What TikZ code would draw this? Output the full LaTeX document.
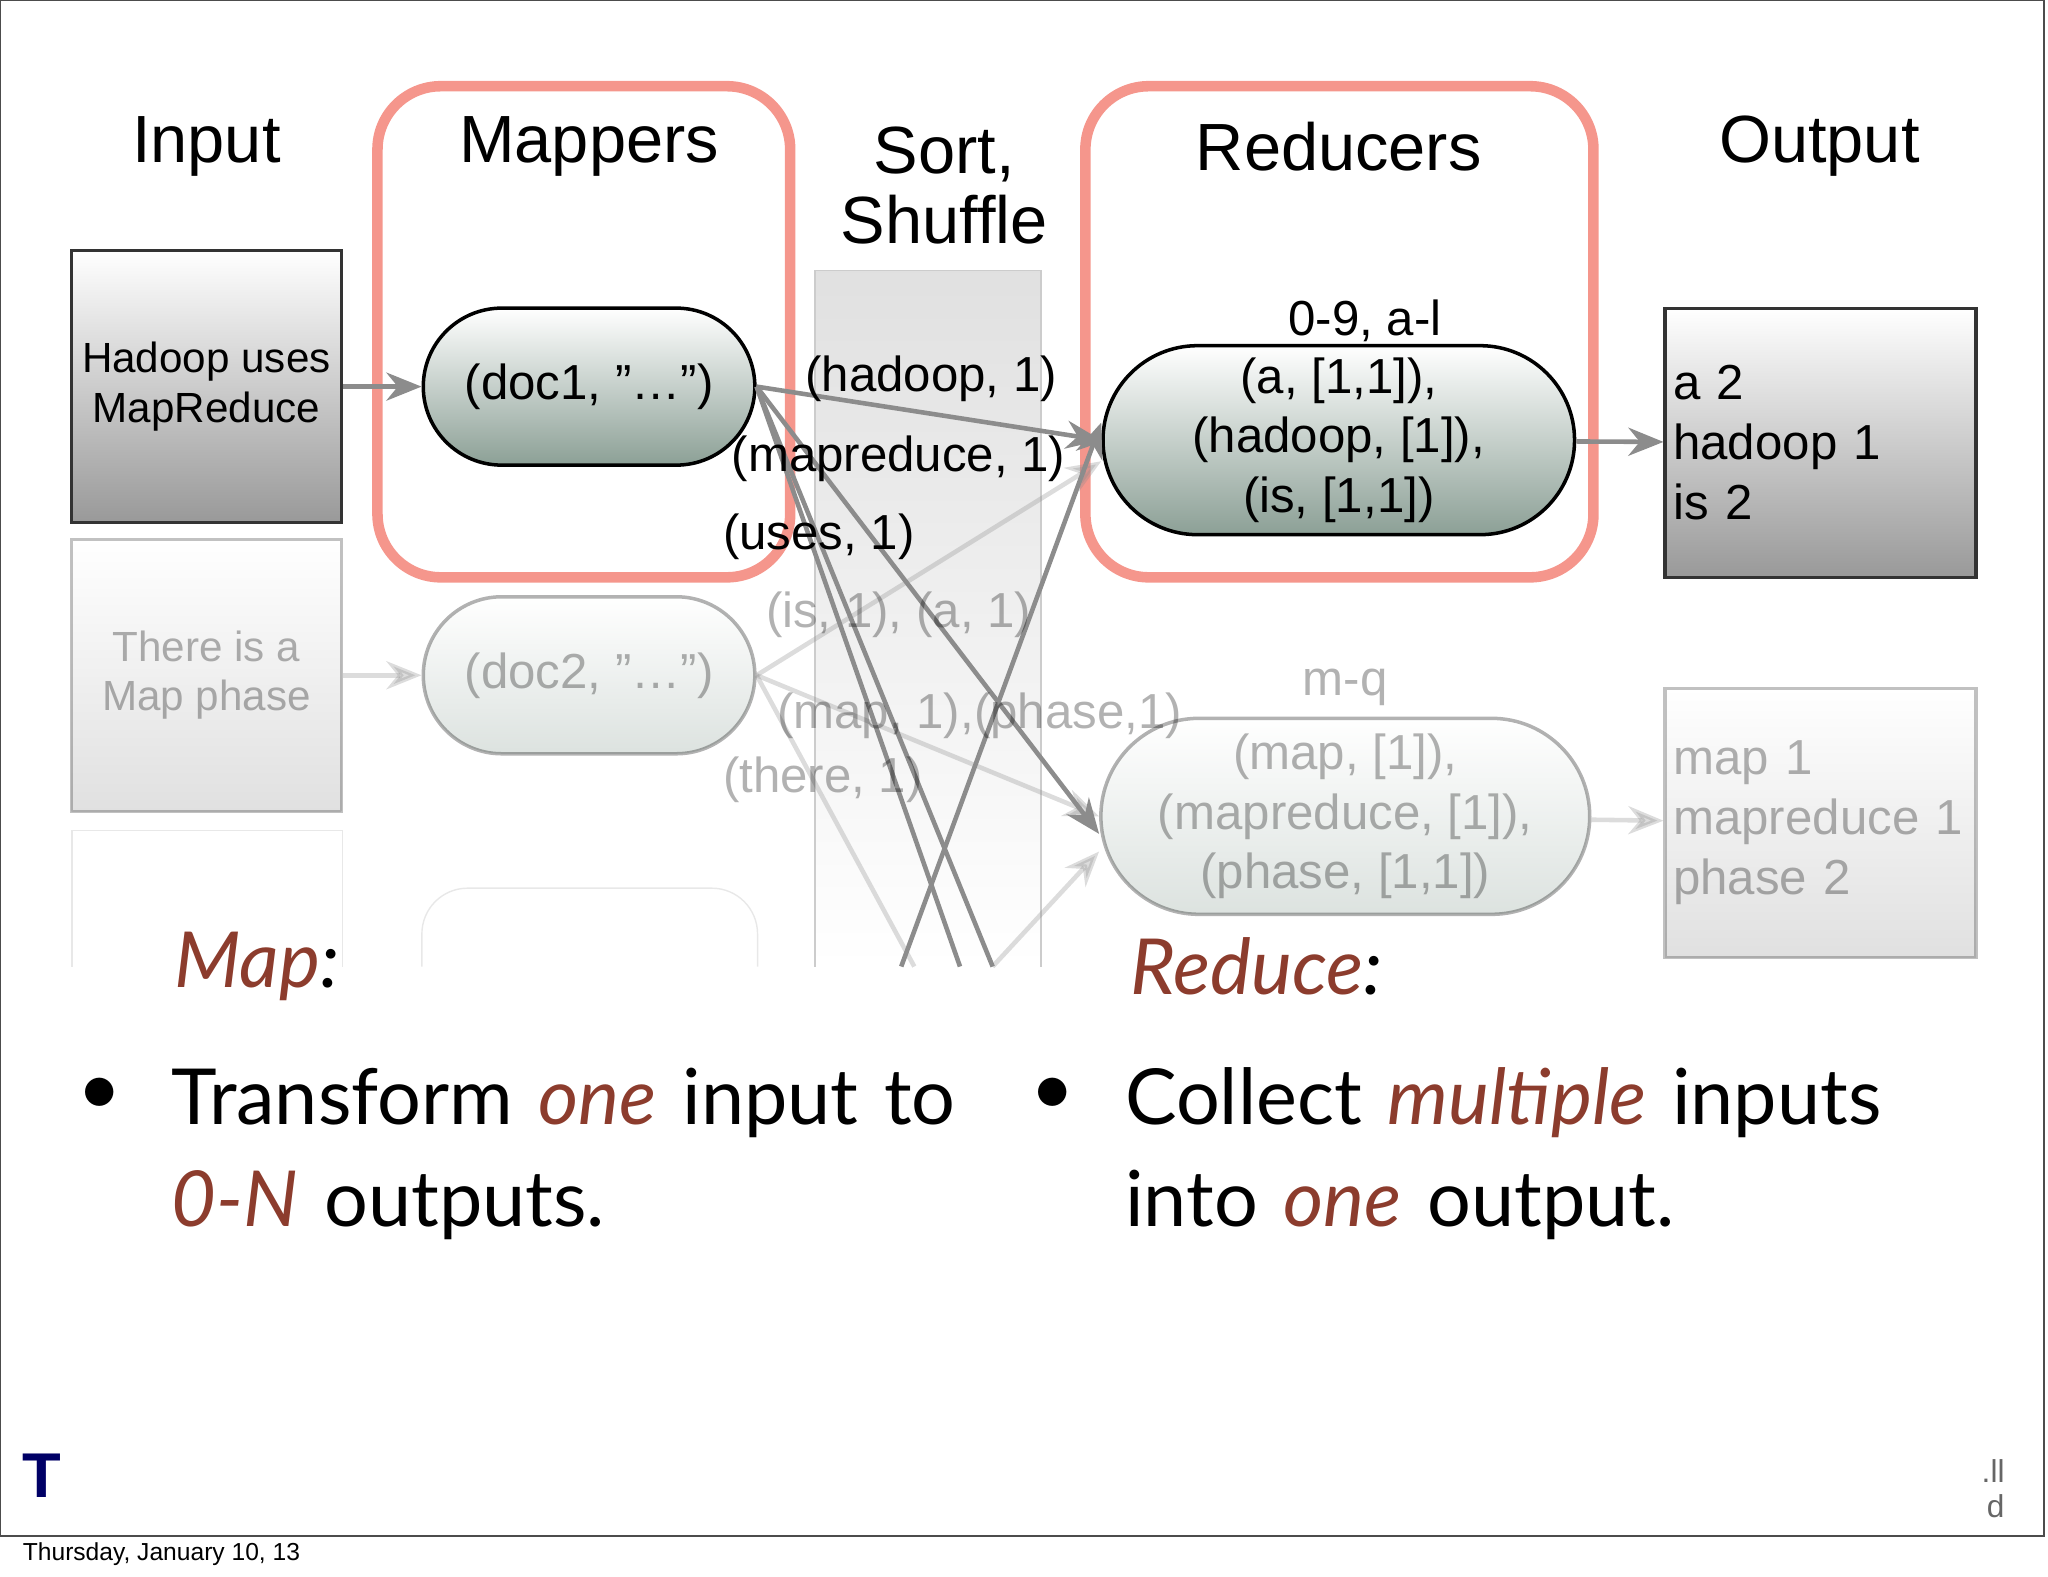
\documentclass[tikz,border=0pt]{standalone}
\usepackage{fontspec}
\setmainfont{Liberation Sans}
\newfontfamily\gill{Lato}
\usetikzlibrary{arrows.meta,shapes.misc,positioning}
\definecolor{brn}{RGB}{140,60,45}
\definecolor{frame}{RGB}{245,150,140}
\definecolor{capsule}{RGB}{140,160,150}
\begin{document}
\begin{tikzpicture}[x=0.01306cm,y=-0.01306cm,font=\fontsize{12}{14}\selectfont]
    \tikzstyle{inbox}=[draw=black!80,line width=1pt,top color=white,bottom color=black!40,minimum width=2.7cm,minimum height=2.72cm,align=center,inner sep=2pt]
    \tikzstyle{outbox}=[inbox,minimum width=3.11cm,minimum height=2.69cm,align=left,text width=2.95cm,font=\fontsize{14}{17}\selectfont]
    \tikzstyle{pill}=[rounded rectangle,draw=black,line width=1pt,top color=white,bottom color=capsule,align=center,font=\fontsize{14}{17}\selectfont]
    \tikzstyle{faded}=[opacity=0.3]
    \tikzstyle{flow}=[draw=black!45,line width=1.3pt,-{Stealth[length=10pt,width=8pt]}]
    \tikzstyle{title}=[font=\fontsize{19}{23}\selectfont,align=center]
    \tikzstyle{kv}=[font=\fontsize{14}{17}\selectfont,inner sep=1pt]
    \tikzstyle{bullet}=[font=\gill\fontsize{22}{29}\selectfont,align=left,anchor=north west,text width=8.9cm]

    \useasboundingbox (0,0) rectangle (1568,1207);
    \draw[black!70,line width=0.8pt] (0,0) rectangle (1565,1176);

    % Titles
    \node[title] (tin) at (158,112) {Input};
    \node[title] (tmap) at (451,112) {Mappers};
    \node[title] (tsort) at (723,142) {Sort,\\[-3pt]Shuffle};
    \node[title] (tred) at (1025,112) {Reducers};
    \node[title] (tout) at (1393,112) {Output};

    % Sort column
    \fill[top color=black!12,bottom color=white] (624,207) rectangle (797,740);
    \draw[black!20] (624,740) -- (624,207) -- (797,207) -- (797,740);

    % First row
    \node[inbox] (in1) at (158,296) {Hadoop uses\\MapReduce};
    \node[pill,minimum width=3.55cm,minimum height=1.57cm] (m1) at (451,296) {(doc1, \char34\ldots\char34)};
    \node[pill,minimum width=4.95cm,minimum height=1.89cm] (r1) at (1025,337) {(a, [1,1]),\\(hadoop, [1]),\\(is, [1,1])};
    \node[outbox] (out1) at (1394,339) {a 2\\hadoop 1\\is 2};
    \node[kv] (rk1) at (1045,246) {0-9, a-l};

    % Second row (faded)
    \begin{scope}[faded]
    \node[inbox] (in2) at (158,517) {There is a\\Map phase};
    \node[pill,minimum width=3.55cm,minimum height=1.57cm] (m2) at (451,517) {(doc2, \char34\ldots\char34)};
    \node[pill,minimum width=4.75cm,minimum height=1.96cm] (r2) at (1030,625) {(map, [1]),\\(mapreduce, [1]),\\(phase, [1,1])};
    \node[outbox] (out2) at (1394,630) {map 1\\mapreduce 1\\phase 2};
    \node[kv] (rk2) at (1030,526) {m-q};
    \end{scope}
    \begin{scope}[opacity=0.15]
    \draw[black!60] (55,740) -- (55,636) -- (262,636) -- (262,740);
    \draw[black!60] (323,740) -- (323,715) arc (180:270:35) -- (545,680) arc (270:360:35) -- (580,740);
    \end{scope}

    % Red frames
    \draw[frame,line width=3pt,rounded corners=18pt] (289,66) rectangle (605,442);
    \draw[frame,line width=3pt,rounded corners=18pt] (831,66) rectangle (1220,442);

    % Connections
    \coordinate (b1) at (760,740);
    \coordinate (b2) at (735,740);
    \coordinate (b3) at (690,740);
    \coordinate (b4) at (700,740);
    \path[flow] (in1) -- (m1);
    \path[flow] (m1.east) -- (r1.west);
    \path[flow] (m1.east) -- ([yshift=-5pt]r2.west);
    \path[draw=black!45,line width=1.3pt] (m1.east) -- (b1);
    \path[draw=black!45,line width=1.3pt] (m1.east) -- (b2);
    \path[flow] (b3) -- ([yshift=5pt]r1.west);
    \path[flow] (r1) -- (out1);
    \begin{scope}[faded]
    \path[flow] (in2) -- (m2);
    \path[flow] (m2.east) -- ([yshift=-6pt]r1.west);
    \path[flow] (m2.east) -- (r2.west);
    \path[draw=black!45,line width=1.3pt] (m2.east) -- (b4);
    \path[flow] (b1) -- ([yshift=-10pt]r2.west);
    \path[flow] (r2) -- (out2);
    \end{scope}

    % Intermediate pairs
    \node[kv] (p1) at (713,290) {(hadoop, 1)};
    \node[kv] (p2) at (688,351) {(mapreduce, 1)};
    \node[kv] (p3) at (627,411) {(uses, 1)};
    \begin{scope}[faded]
    \node[kv] (p4) at (688,471) {(is, 1), (a, 1)};
    \node[kv] (p5) at (750,548) {(map, 1),(phase,1)};
    \node[kv] (p6) at (630,597) {(there, 1)};
    \end{scope}

    % Text
    \node[font=\gill\itshape\fontsize{22}{26}\selectfont,anchor=west] (lmap) at (124,740) {\textcolor{brn}{Map}:};
    \node[font=\gill\itshape\fontsize{22}{26}\selectfont,anchor=west] (lred) at (856,740) {\textcolor{brn}{Reduce}:};
    \node[font=\gill\fontsize{22}{26}\selectfont] (d1) at (76,838) {$\bullet$};
    \node[font=\gill\fontsize{22}{26}\selectfont] (d2) at (806,838) {$\bullet$};
    \node[bullet] (t1) at (122,808) {Transform \textcolor{brn}{\itshape one} input to \textcolor{brn}{\itshape 0-N} outputs.};
    \node[bullet] (t2) at (852,808) {Collect \textcolor{brn}{\itshape multiple} inputs into \textcolor{brn}{\itshape one} output.};

    % Footer
    \node[font=\bfseries\fontsize{18}{20}\selectfont,text=blue!40!black] (logo) at (32,1130) {T};
    \node[font=\fontsize{9}{10}\selectfont,text=black!60,align=right] (rt) at (1526,1140) {.ll\\d};
    \node[font=\fontsize{7}{8}\selectfont,anchor=west] (date) at (8,1190) {Thursday, January 10, 13};
\end{tikzpicture}
\end{document}
